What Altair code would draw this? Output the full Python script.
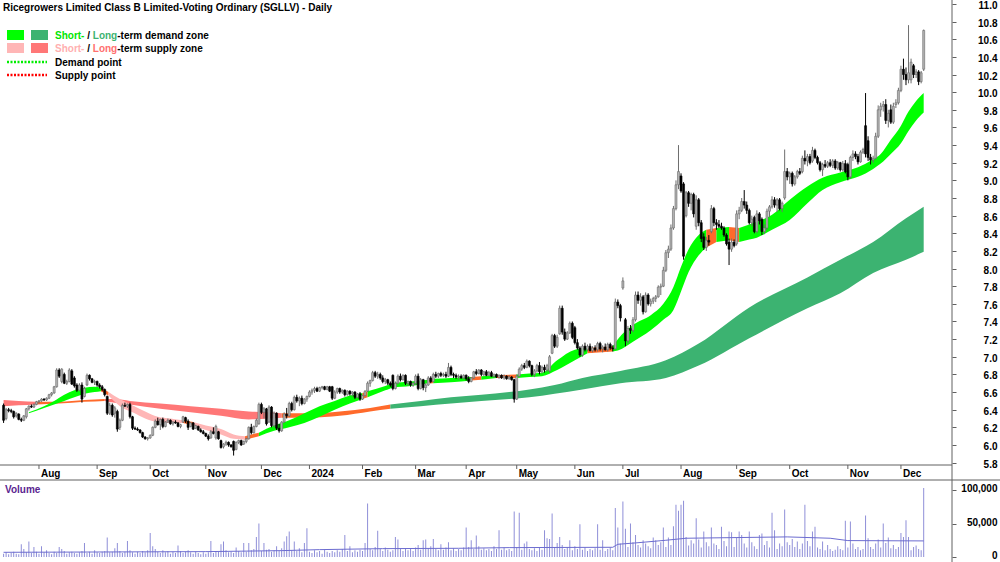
import altair as alt
import pandas as pd

TITLE = "Ricegrowers Limited Class B Limited-Voting Ordinary (SGLLV) - Daily"
FONT = "Liberation Sans"
FIRST_DAY = "2023-07-12"
LAST_DAY = "2024-12-13"
HOLIDAYS = ["2023-12-25", "2023-12-26", "2024-01-01", "2024-01-26",
            "2024-03-29", "2024-04-01", "2024-04-25", "2024-06-10"]

OPEN = [
    6.45,6.30,6.40,6.39,6.38,6.33,6.35,6.29,6.28,6.32, 6.41,6.44,6.43,6.46,6.49,6.50,6.52,6.51,6.53,6.57,
    6.59,6.66,6.85,6.72,6.80,6.70,6.72,6.84,6.76,6.68, 6.62,6.68,6.55,6.68,6.79,6.75,6.71,6.72,6.68,6.66,
    6.63,6.55,6.36,6.45,6.36,6.38,6.20,6.28,6.45,6.44, 6.46,6.32,6.19,6.18,6.17,6.14,6.09,6.07,6.08,6.11,
    6.20,6.27,6.23,6.29,6.21,6.26,6.28,6.24,6.26,6.25, 6.21,6.26,6.31,6.27,6.21,6.25,6.19,6.21,6.17,6.15,
    6.13,6.10,6.08,6.15,6.08,6.15,6.05,5.98,6.01,6.03, 6.00,6.04,5.95,6.03,6.05,6.01,6.04,6.07,6.20,6.14,
    6.21,6.24,6.46,6.37,6.41,6.26,6.43,6.22,6.36,6.19, 6.16,6.26,6.35,6.33,6.47,6.40,6.54,6.50,6.53,6.47,
    6.52,6.55,6.60,6.62,6.64,6.61,6.65,6.66,6.63,6.66, 6.66,6.53,6.60,6.64,6.60,6.62,6.57,6.61,6.58,6.60,
    6.54,6.58,6.52,6.56,6.61,6.70,6.73,6.82,6.78,6.80, 6.76,6.72,6.74,6.70,6.79,6.64,6.70,6.78,6.74,6.79,
    6.70,6.72,6.68,6.70,6.78,6.64,6.74,6.65,6.68,6.76, 6.72,6.80,6.78,6.81,6.79,6.80,6.78,6.88,6.80,6.79,
    6.77,6.78,6.76,6.79,6.75,6.72,6.76,6.83,6.81,6.85, 6.80,6.83,6.79,6.82,6.78,6.80,6.77,6.79,6.76,6.78,
    6.75,6.77,6.74,6.52,6.78,6.86,6.90,6.88,6.95,6.90, 6.80,6.84,6.90,6.83,6.88,6.85,6.84,7.04,7.24,7.12,
    7.26,7.55,7.28,7.20,7.27,7.38,7.33,7.16,7.10,7.02, 7.12,7.08,7.12,7.07,7.10,7.08,7.15,7.09,7.11,7.08,
    7.14,7.10,7.09,7.62,7.58,7.78,7.42,7.18,7.32,7.30, 7.42,7.70,7.64,7.68,7.51,7.70,7.60,7.63,7.66,7.68,
    7.79,7.80,7.98,8.18,8.22,8.46,8.68,8.95,9.05,8.96, 8.60,8.86,8.74,8.84,8.48,8.78,8.52,8.36,8.24,8.32,
    8.42,8.68,8.52,8.50,8.48,8.46,8.38,8.30,8.22,8.30, 8.28,8.62,8.66,8.76,8.72,8.66,8.52,8.58,8.42,8.62,
    8.56,8.42,8.46,8.65,8.70,8.78,8.72,8.78,8.68,8.80, 9.10,9.04,9.08,8.96,9.04,9.10,9.10,9.25,9.22,9.27,
    9.22,9.34,9.26,9.20,9.12,9.18,9.16,9.20,9.17,9.22, 9.14,9.20,9.12,9.19,9.18,9.04,9.26,9.30,9.27,9.21,
    9.32,9.62,9.45,9.26,9.23,9.25,9.50,9.80,9.84,9.86, 9.68,9.80,9.66,9.86,9.88,10.02,10.26,10.20,10.14,10.14,
    10.30,10.20,10.23,10.12,10.26,
]
HIGH = [
    6.47,6.42,6.42,6.41,6.39,6.37,6.36,6.31,6.34,6.42, 6.45,6.46,6.47,6.50,6.51,6.53,6.53,6.54,6.58,6.60,
    6.67,6.87,6.87,6.87,6.82,6.74,6.87,6.86,6.78,6.70, 6.70,6.71,6.66,6.81,6.80,6.76,6.74,6.73,6.70,6.68,
    6.64,6.56,6.48,6.47,6.44,6.40,6.30,6.47,6.48,6.47, 6.48,6.33,6.21,6.20,6.18,6.15,6.10,6.09,6.12,6.21,
    6.29,6.31,6.30,6.31,6.27,6.30,6.29,6.27,6.28,6.26, 6.24,6.33,6.32,6.29,6.26,6.26,6.23,6.22,6.19,6.17,
    6.14,6.12,6.17,6.20,6.23,6.16,6.06,6.02,6.05,6.04, 6.01,6.05,6.04,6.06,6.06,6.05,6.08,6.21,6.24,6.22,
    6.30,6.48,6.48,6.43,6.42,6.45,6.44,6.38,6.37,6.24, 6.27,6.37,6.42,6.49,6.49,6.56,6.57,6.55,6.56,6.53,
    6.56,6.62,6.64,6.66,6.66,6.66,6.67,6.67,6.67,6.67, 6.67,6.62,6.65,6.65,6.63,6.63,6.62,6.62,6.61,6.61,
    6.59,6.60,6.57,6.62,6.72,6.74,6.84,6.84,6.83,6.82, 6.79,6.76,6.75,6.72,6.80,6.72,6.80,6.81,6.80,6.80,
    6.73,6.73,6.71,6.80,6.81,6.76,6.75,6.70,6.78,6.78, 6.82,6.83,6.82,6.83,6.82,6.83,6.93,6.90,6.82,6.81,
    6.80,6.80,6.80,6.80,6.78,6.77,6.84,6.86,6.86,6.86, 6.84,6.85,6.84,6.84,6.81,6.81,6.80,6.80,6.80,6.79,
    6.79,6.78,6.75,6.80,6.88,6.92,6.93,6.97,6.96,6.91, 6.86,6.92,6.94,6.90,6.91,6.92,7.02,7.26,7.26,7.25,
    7.58,7.58,7.32,7.29,7.40,7.40,7.35,7.20,7.12,7.14, 7.16,7.14,7.15,7.12,7.13,7.17,7.17,7.13,7.15,7.16,
    7.16,7.13,7.66,7.65,7.60,7.90,7.44,7.35,7.36,7.45, 7.74,7.74,7.72,7.70,7.73,7.72,7.66,7.68,7.70,7.81,
    7.83,8.02,8.21,8.26,8.50,8.71,9.00,9.40,9.08,8.98, 8.88,8.88,8.86,8.86,8.83,8.80,8.55,8.40,8.36,8.38,
    8.72,8.70,8.56,8.55,8.52,8.48,8.40,8.34,8.34,8.33, 8.66,8.70,8.80,8.89,8.76,8.68,8.60,8.60,8.66,8.64,
    8.58,8.50,8.68,8.72,8.82,8.81,8.80,8.80,8.76,9.35, 9.14,9.10,9.10,9.06,9.12,9.14,9.28,9.34,9.30,9.30,
    9.38,9.36,9.28,9.22,9.20,9.23,9.22,9.24,9.24,9.24, 9.22,9.21,9.22,9.23,9.20,9.28,9.34,9.33,9.30,9.34,
    9.37,9.99,9.50,9.30,9.28,9.54,9.85,9.88,9.90,9.92, 9.80,9.86,9.88,9.92,10.05,10.30,10.38,10.28,10.76,10.38,
    10.32,10.26,10.25,10.24,10.71,
]
LOW = [
    6.25,6.28,6.37,6.36,6.30,6.31,6.28,6.26,6.27,6.30, 6.39,6.42,6.42,6.45,6.47,6.49,6.50,6.50,6.52,6.55,
    6.58,6.65,6.76,6.70,6.69,6.68,6.71,6.68,6.65,6.60, 6.61,6.48,6.54,6.67,6.73,6.70,6.68,6.66,6.64,6.61,
    6.55,6.34,6.34,6.32,6.31,6.15,6.17,6.27,6.43,6.42, 6.30,6.17,6.17,6.16,6.13,6.08,6.06,6.05,6.07,6.10,
    6.19,6.22,6.17,6.19,6.20,6.25,6.23,6.22,6.24,6.20, 6.19,6.25,6.25,6.17,6.20,6.17,6.18,6.16,6.14,6.12,
    6.09,6.05,6.07,6.12,6.06,6.06,5.96,5.96,5.99,5.98, 5.97,5.88,5.94,6.01,5.99,6.00,6.02,6.06,6.12,6.13,
    6.20,6.23,6.35,6.30,6.22,6.25,6.20,6.20,6.17,6.14, 6.15,6.25,6.30,6.32,6.38,6.39,6.48,6.44,6.45,6.46,
    6.49,6.54,6.57,6.59,6.60,6.60,6.63,6.62,6.62,6.60, 6.51,6.52,6.58,6.58,6.58,6.55,6.56,6.56,6.55,6.52,
    6.53,6.50,6.51,6.55,6.60,6.66,6.72,6.76,6.75,6.74, 6.70,6.69,6.68,6.66,6.62,6.63,6.69,6.72,6.73,6.68,
    6.67,6.66,6.66,6.68,6.62,6.63,6.62,6.60,6.67,6.70, 6.71,6.76,6.76,6.77,6.77,6.76,6.77,6.78,6.76,6.75,
    6.74,6.75,6.74,6.73,6.70,6.71,6.75,6.79,6.80,6.78, 6.78,6.78,6.78,6.77,6.76,6.76,6.75,6.75,6.74,6.74,
    6.74,6.73,6.48,6.51,6.77,6.84,6.86,6.87,6.88,6.78, 6.77,6.82,6.80,6.81,6.82,6.83,6.82,7.03,7.10,7.10,
    7.25,7.25,7.18,7.19,7.26,7.20,7.14,7.08,7.00,7.00, 7.06,7.06,7.06,7.05,7.06,7.06,7.07,7.05,7.07,7.06,
    7.08,7.06,7.08,7.55,7.40,7.76,7.12,7.15,7.26,7.28, 7.40,7.60,7.58,7.48,7.50,7.58,7.57,7.60,7.62,7.67,
    7.70,7.79,7.96,8.12,8.20,8.44,8.66,8.90,8.86,8.10, 8.58,8.70,8.66,8.58,8.44,8.48,8.30,8.21,8.20,8.26,
    8.40,8.48,8.44,8.46,8.44,8.36,8.26,8.04,8.19,8.24, 8.26,8.56,8.64,8.68,8.62,8.50,8.48,8.40,8.40,8.50,
    8.38,8.39,8.44,8.58,8.68,8.69,8.64,8.66,8.64,8.78, 9.00,8.96,8.93,8.94,9.02,9.06,9.08,9.18,9.16,9.18,
    9.20,9.24,9.18,9.10,9.05,9.14,9.14,9.15,9.14,9.12, 9.12,9.10,9.10,9.08,9.00,9.02,9.22,9.24,9.18,9.20,
    9.30,9.26,9.22,9.18,9.20,9.24,9.48,9.72,9.78,9.64, 9.60,9.64,9.64,9.82,9.86,10.00,10.14,10.08,10.10,10.10,
    10.16,10.16,10.08,10.10,10.24,
]
CLOSE = [
    6.28,6.40,6.39,6.38,6.32,6.36,6.29,6.28,6.33,6.41, 6.44,6.43,6.46,6.49,6.50,6.52,6.51,6.53,6.57,6.59,
    6.66,6.85,6.78,6.86,6.70,6.72,6.85,6.69,6.67,6.62, 6.68,6.52,6.64,6.79,6.75,6.71,6.72,6.68,6.66,6.63,
    6.57,6.36,6.45,6.34,6.42,6.18,6.28,6.45,6.44,6.46, 6.32,6.19,6.18,6.17,6.14,6.09,6.07,6.08,6.11,6.20,
    6.27,6.23,6.29,6.21,6.26,6.28,6.24,6.26,6.25,6.21, 6.23,6.32,6.27,6.20,6.25,6.18,6.22,6.17,6.15,6.13,
    6.10,6.07,6.15,6.13,6.21,6.07,5.97,6.01,6.03,6.00, 5.98,5.94,6.03,6.05,6.00,6.04,6.07,6.20,6.14,6.21,
    6.28,6.46,6.37,6.41,6.24,6.43,6.22,6.36,6.19,6.16, 6.26,6.35,6.33,6.47,6.40,6.54,6.50,6.53,6.47,6.52,
    6.55,6.60,6.62,6.64,6.61,6.65,6.66,6.63,6.66,6.61, 6.53,6.60,6.64,6.60,6.62,6.57,6.61,6.58,6.60,6.54,
    6.58,6.52,6.56,6.61,6.70,6.73,6.82,6.78,6.80,6.76, 6.72,6.74,6.70,6.68,6.64,6.70,6.78,6.74,6.79,6.70,
    6.72,6.68,6.70,6.78,6.64,6.74,6.65,6.68,6.76,6.72, 6.80,6.78,6.81,6.79,6.80,6.78,6.88,6.80,6.79,6.77,
    6.78,6.76,6.79,6.75,6.72,6.76,6.83,6.81,6.85,6.80, 6.83,6.79,6.82,6.78,6.80,6.77,6.79,6.76,6.78,6.75,
    6.77,6.74,6.52,6.78,6.86,6.90,6.88,6.95,6.90,6.80, 6.84,6.90,6.83,6.88,6.85,6.90,7.00,7.24,7.12,7.22,
    7.55,7.28,7.20,7.27,7.38,7.22,7.16,7.10,7.02,7.12, 7.08,7.12,7.07,7.10,7.08,7.15,7.09,7.11,7.08,7.14,
    7.10,7.09,7.62,7.58,7.44,7.86,7.18,7.32,7.30,7.42, 7.70,7.64,7.68,7.51,7.70,7.60,7.63,7.66,7.68,7.79,
    7.80,7.98,8.18,8.22,8.46,8.68,8.95,9.10,8.88,8.14, 8.86,8.74,8.84,8.62,8.78,8.52,8.34,8.24,8.32,8.30,
    8.68,8.52,8.50,8.48,8.46,8.38,8.28,8.22,8.30,8.26, 8.62,8.66,8.76,8.72,8.66,8.52,8.56,8.42,8.62,8.54,
    8.42,8.46,8.65,8.70,8.78,8.72,8.78,8.68,8.74,9.10, 9.04,9.08,8.96,9.04,9.10,9.08,9.25,9.22,9.27,9.20,
    9.34,9.26,9.20,9.12,9.18,9.16,9.20,9.17,9.22,9.14, 9.20,9.12,9.19,9.10,9.04,9.26,9.30,9.27,9.21,9.32,
    9.35,9.30,9.26,9.23,9.25,9.50,9.80,9.84,9.86,9.68, 9.76,9.66,9.84,9.88,10.02,10.26,10.20,10.14,10.22,10.34,
    10.20,10.23,10.12,10.22,10.70,
]
VOLUME_K = [
    5,7,4,6,8,5,4,19,12,7, 23,6,15,8,5,16,7,10,6,4, 8,6,15,12,9,5,7,8,6,5, 7,9,21,6,8,5,10,7,6,8,
    9,29,7,8,13,21,9,6,8,24, 10,7,5,8,6,9,7,10,36,16, 12,8,6,10,7,9,5,8,6,17, 9,6,8,10,7,5,8,6,4,7,
    5,7,24,6,9,8,19,23,10,7, 8,6,14,9,7,21,8,21,10,12, 30,50,9,21,11,12,8,10,16,9, 13,23,31,38,10,23,9,13,7,21,
    43,8,6,10,7,9,5,11,8,6, 9,7,10,8,12,33,9,16,7,10, 8,11,9,21,80,12,10,15,39,12, 9,14,11,8,10,30,26,12,9,13,
    10,12,9,14,18,11,25,26,13,16, 27,12,10,19,11,14,22,10,13,9, 12,10,14,44,15,25,12,32,16,11, 13,10,12,9,16,12,40,11,14,10,
    12,9,68,14,66,11,20,23,12,10, 13,9,14,11,40,28,27,65,15,21, 30,18,12,14,25,10,16,12,49,11, 14,9,12,10,13,49,11,25,9,12,
    14,10,73,44,20,83,42,15,50,22, 33,18,14,25,20,16,13,29,25,18, 22,44,15,29,18,46,78,69,78,84, 30,17,25,20,58,26,14,38,22,16,
    44,20,18,12,45,24,16,38,37,15, 30,38,33,20,14,38,22,16,12,33, 35,18,24,14,66,40,12,20,16,71, 22,18,27,15,23,12,20,78,24,16,
    38,45,14,12,23,10,18,12,9,11, 16,12,10,54,14,53,20,12,15,10, 12,62,28,15,12,20,26,14,50,21, 29,13,18,12,15,36,30,55,30,10,
    15,17,12,10,103,
]
# volume moving average: (trading-day index, volume)
VOL_AVG = [(0, 7000), (40, 7500), (80, 8000), (110, 9500), (125, 11000), (150, 12500),
           (180, 13000), (200, 14000), (241, 14500), (243, 19000), (250, 21000), (262, 25000),
           (270, 28000), (290, 29000), (310, 30000), (327, 28000), (334, 24500), (364, 24000)]

# zones: (trading-day index, upper edge, lower edge, zone)
SHORT_ZONE = [
    (10, 6.37, 6.36, "sd"), (16, 6.44, 6.42, "sd"), (20, 6.50, 6.46, "sd"), (24, 6.57, 6.50, "sd"),
    (28, 6.62, 6.54, "sd"), (32, 6.65, 6.58, "sd"), (36, 6.66, 6.60, "sd"), (38.5, 6.65, 6.61, "or"),
    (41.5, 6.60, 6.56, "ss"), (46, 6.52, 6.44, "ss"), (51, 6.45, 6.37, "ss"), (56, 6.38, 6.30, "ss"),
    (61, 6.32, 6.26, "ss"), (66, 6.30, 6.25, "ss"), (71, 6.28, 6.25, "or"), (75, 6.26, 6.22, "ss"),
    (80, 6.22, 6.17, "ss"), (86, 6.18, 6.12, "ss"), (91, 6.12, 6.07, "ss"), (95.5, 6.10, 6.06, "or"),
    (101, 6.14, 6.10, "sd"), (107, 6.22, 6.16, "sd"), (113, 6.28, 6.20, "sd"), (119, 6.36, 6.25, "sd"),
    (125, 6.44, 6.32, "sd"), (131, 6.50, 6.40, "sd"), (137, 6.56, 6.47, "sd"), (142, 6.59, 6.52, "or"),
    (144, 6.61, 6.54, "sd"), (151, 6.67, 6.62, "sd"), (154, 6.70, 6.65, "sd"), (161, 6.72, 6.67, "sd"),
    (168, 6.74, 6.70, "or"), (170, 6.75, 6.70, "sd"), (177, 6.76, 6.71, "sd"), (185, 6.77, 6.73, "or"),
    (189, 6.78, 6.74, "sd"), (195, 6.79, 6.76, "or"), (203, 6.80, 6.76, "sd"), (208, 6.81, 6.77, "sd"),
    (213, 6.82, 6.78, "sd"), (219, 6.96, 6.85, "sd"), (226, 7.08, 6.96, "sd"), (231, 7.10, 7.04, "or"),
    (241, 7.12, 7.06, "sd"), (243, 7.20, 7.07, "sd"), (249, 7.36, 7.17, "sd"), (256, 7.47, 7.30, "sd"),
    (261, 7.60, 7.42, "sd"), (265, 7.79, 7.53, "sd"), (268, 8.02, 7.74, "sd"), (271, 8.22, 7.96, "sd"),
    (275, 8.38, 8.15, "sd"), (278, 8.44, 8.24, "or"), (282, 8.46, 8.30, "sd"), (287, 8.47, 8.32, "or"),
    (291, 8.46, 8.30, "sd"), (295, 8.50, 8.33, "sd"), (298, 8.53, 8.35, "sd"), (304, 8.61, 8.44, "sd"),
    (311, 8.78, 8.55, "sd"), (318, 8.93, 8.74, "sd"), (324, 9.03, 8.89, "sd"), (331, 9.09, 8.98, "sd"),
    (338, 9.15, 9.04, "sd"), (344, 9.24, 9.13, "sd"), (347, 9.30, 9.19, "sd"), (351, 9.46, 9.30, "sd"),
    (355, 9.62, 9.42, "sd"), (358, 9.78, 9.56, "sd"), (361, 9.90, 9.68, "sd"), (364, 9.99, 9.77, "sd"),
]
LONG_ZONE = [
    (0, 6.51, 6.44, "ls"), (6, 6.50, 6.45, "ls"), (13, 6.49, 6.46, "or"), (22, 6.49, 6.47, "or"),
    (32, 6.51, 6.49, "or"), (40, 6.52, 6.50, "ls"), (44, 6.52, 6.48, "ls"), (50, 6.50, 6.46, "ls"),
    (62, 6.47, 6.41, "ls"), (74, 6.44, 6.37, "ls"), (86, 6.41, 6.33, "ls"), (97, 6.38, 6.29, "ls"),
    (105, 6.37, 6.30, "ls"), (110, 6.36, 6.31, "or"), (121, 6.36, 6.31, "or"), (133, 6.38, 6.33, "or"),
    (145, 6.42, 6.38, "or"), (153, 6.46, 6.41, "ld"), (165, 6.50, 6.44, "ld"), (177, 6.54, 6.47, "ld"),
    (189, 6.57, 6.50, "ld"), (200, 6.60, 6.52, "ld"), (208, 6.63, 6.54, "ld"), (218, 6.68, 6.58, "ld"),
    (229, 6.76, 6.63, "ld"), (244, 6.84, 6.70, "ld"), (262, 6.96, 6.76, "ld"), (275, 7.15, 6.90, "ld"),
    (295, 7.56, 7.21, "ld"), (318, 7.90, 7.55, "ld"), (331, 8.10, 7.72, "ld"), (344, 8.30, 7.95, "ld"),
    (357, 8.57, 8.10, "ld"), (364, 8.70, 8.19, "ld"),
]
ZONE_NAMES = ["sd", "ld", "ss", "ls", "or"]
ZONE_COLORS = ["#00ff00", "#3cb371", "#ffb6b6", "#ff7777", "#ff6a2b"]
PRICE_TICKS = [round(5.8 + 0.2 * k, 1) for k in range(27)]
VOLUME_TICKS = [0, 50000, 100000]

# ---------------------------------------------------------------- data frames
days = pd.bdate_range(FIRST_DAY, LAST_DAY, freq="C", holidays=HOLIDAYS)
n = min(len(days), len(CLOSE))
price = pd.DataFrame({"i": range(n), "open": OPEN[:n], "high": HIGH[:n],
                      "low": LOW[:n], "close": CLOSE[:n],
                      "vol": [v * 1000 for v in VOLUME_K[:n]]})

ds = pd.Series(days[:n])
firsts = ds.groupby([ds.dt.year, ds.dt.month]).head(1)
months = pd.DataFrame([{"i": idx, "label": ("2024" if d.month == 1 else d.strftime("%b"))}
                       for idx, d in firsts.items() if idx > 0])

def band_rows(points):
    rows, seg = [], 0
    for k, (i, t, b, z) in enumerate(points):
        if k > 0 and z != points[k - 1][3]:
            rows.append(dict(i=i, top=t, bot=b, zone=points[k - 1][3], seg=seg))
            seg += 1
        rows.append(dict(i=i, top=t, bot=b, zone=z, seg=seg))
    return pd.DataFrame(rows)

short_df = band_rows(SHORT_ZONE)
long_df = band_rows(LONG_ZONE)
vavg = pd.DataFrame(VOL_AVG, columns=["i", "v"])

# ---------------------------------------------------------------- scales
XS = alt.Scale(domain=[-1.42, 375.2], nice=False, zero=False, padding=0)
PY = alt.Scale(domain=[5.773, 11.045], range=[465, 0], nice=False, zero=False, padding=0)
VY = alt.Scale(domain=[0, 100000], range=[557, 490], nice=False, zero=False, padding=0)
ZS = alt.Scale(domain=ZONE_NAMES, range=ZONE_COLORS)
X = alt.X("i:Q", scale=XS, axis=None)

axis_common = dict(orient="right", tickSize=4, labelPadding=41, labelAlign="right",
                   labelFont=FONT, labelFontSize=10, labelFontWeight="bold",
                   labelColor="black", domain=False, grid=False, tickColor="#606060",
                   title=None, labelOverlap=False, labelBound=False, labelFlush=False)
price_axis = alt.Axis(values=PRICE_TICKS, format=".1f", labelOffset=1.5, **axis_common)
vol_axis = alt.Axis(values=VOLUME_TICKS, format=",d", labelOffset=-1.5, **axis_common)

long_band = alt.Chart(long_df).mark_area(interpolate="monotone").encode(
    x=X, y=alt.Y("top:Q", scale=PY, axis=price_axis), y2="bot:Q",
    color=alt.Color("zone:N", scale=ZS, legend=None), detail="seg:N")
short_band = alt.Chart(short_df).mark_area(interpolate="monotone").encode(
    x=X, y=alt.Y("top:Q", scale=PY, axis=None), y2="bot:Q",
    color=alt.Color("zone:N", scale=ZS, legend=None), detail="seg:N")

up = "datum.close >= datum.open"
wicks = alt.Chart(price).mark_rule(strokeWidth=1).encode(
    x=X, y=alt.Y("low:Q", scale=PY, axis=None), y2="high:Q",
    color=alt.condition(up, alt.value("#6e6e6e"), alt.value("#000000")))
bodies = alt.Chart(price).mark_bar(size=2, strokeWidth=0.6).encode(
    x=X, y=alt.Y("open:Q", scale=PY, axis=None), y2="close:Q",
    fill=alt.condition(up, alt.value("#b4b4b4"), alt.value("#000000")),
    stroke=alt.condition(up, alt.value("#6a6a6a"), alt.value("#000000")))

vol_bars = alt.Chart(price).mark_bar(size=1, color="#8f8fd8").encode(
    x=X, y=alt.Y("vol:Q", scale=VY, axis=vol_axis))
vol_line = alt.Chart(vavg).mark_line(color="#6c6cd0", strokeWidth=1).encode(
    x=X, y=alt.Y("v:Q", scale=VY, axis=None))

month_ticks = alt.Chart(months).mark_rule(color="#606060").encode(
    x=X, y=alt.value(465), y2=alt.value(469))
month_text = alt.Chart(months).mark_text(
    align="left", baseline="alphabetic", dx=2, font=FONT, fontSize=10,
    fontWeight="bold", color="black").encode(x=X, y=alt.value(477), text="label:N")

ONE = pd.DataFrame({"a": [0]})

def rule(x1, x2, y1, y2, color="#606060", width=1, dash=None):
    kw = dict(color=color, strokeWidth=width)
    if dash:
        kw["strokeDash"] = dash
    return alt.Chart(ONE).mark_rule(**kw).encode(
        x=alt.value(x1), x2=alt.value(x2), y=alt.value(y1), y2=alt.value(y2))

def rect(x1, x2, y1, y2, color):
    return alt.Chart(ONE).mark_rect(color=color).encode(
        x=alt.value(x1), x2=alt.value(x2), y=alt.value(y1), y2=alt.value(y2))

def text(s, x, y, color="black"):
    return alt.Chart(pd.DataFrame({"t": [s]})).mark_text(
        align="left", baseline="alphabetic", font=FONT, fontSize=10,
        fontWeight="bold", color=color).encode(text="t:N", x=alt.value(x), y=alt.value(y))

W = {" ": 278, "-": 333, "/": 278, "S": 667, "L": 611, "h": 611, "o": 611, "r": 389,
     "t": 333, "n": 611, "g": 611}
def width(s):
    return sum(W[c] for c in s) * 10 / 1000.0

x_short = 55
x_slash = x_short + width("Short- ")
x_long = x_slash + width("/ ")
x_rest = x_long + width("Long")

legend = [
    text(TITLE, 3, 11),
    rect(7, 24, 30, 40, "#00ff00"), rect(31, 48, 30, 40, "#3cb371"),
    rect(7, 24, 43, 53, "#ffb6b6"), rect(31, 48, 43, 53, "#ff7777"),
    rule(7, 47, 62, 62, color="#00ee00", width=2.5, dash=[2, 1.5]),
    rule(7, 47, 75, 75, color="#ff0000", width=2.5, dash=[2, 1.5]),
    text("Short-", x_short, 39, "#00e600"), text("/", x_slash, 39),
    text("Long", x_long, 39, "#3cb371"), text("-term demand zone", x_rest, 39),
    text("Short-", x_short, 52, "#ffb0b0"), text("/", x_slash, 52),
    text("Long", x_long, 52, "#ff6f6f"), text("-term supply zone", x_rest, 52),
    text("Demand point", 55, 66), text("Supply point", 55, 79),
    text("Volume", 5, 493, "#5a2590"),
]

frame = [rule(0, 952, 465, 465), rule(0, 1000, 480, 480), rule(952, 952, 0, 562)]

chart = alt.layer(
    long_band, short_band, wicks, bodies, vol_bars, vol_line,
    month_ticks, month_text, *frame, *legend
).resolve_scale(y="independent").properties(
    width=952, height=562,
    padding={"left": 0, "top": 0, "right": 48, "bottom": 0},
    autosize=alt.AutoSizeParams(type="none"),
    background="white",
).configure_view(stroke=None)

chart.save("out.html", embed_options={"renderer": "svg", "actions": False})
